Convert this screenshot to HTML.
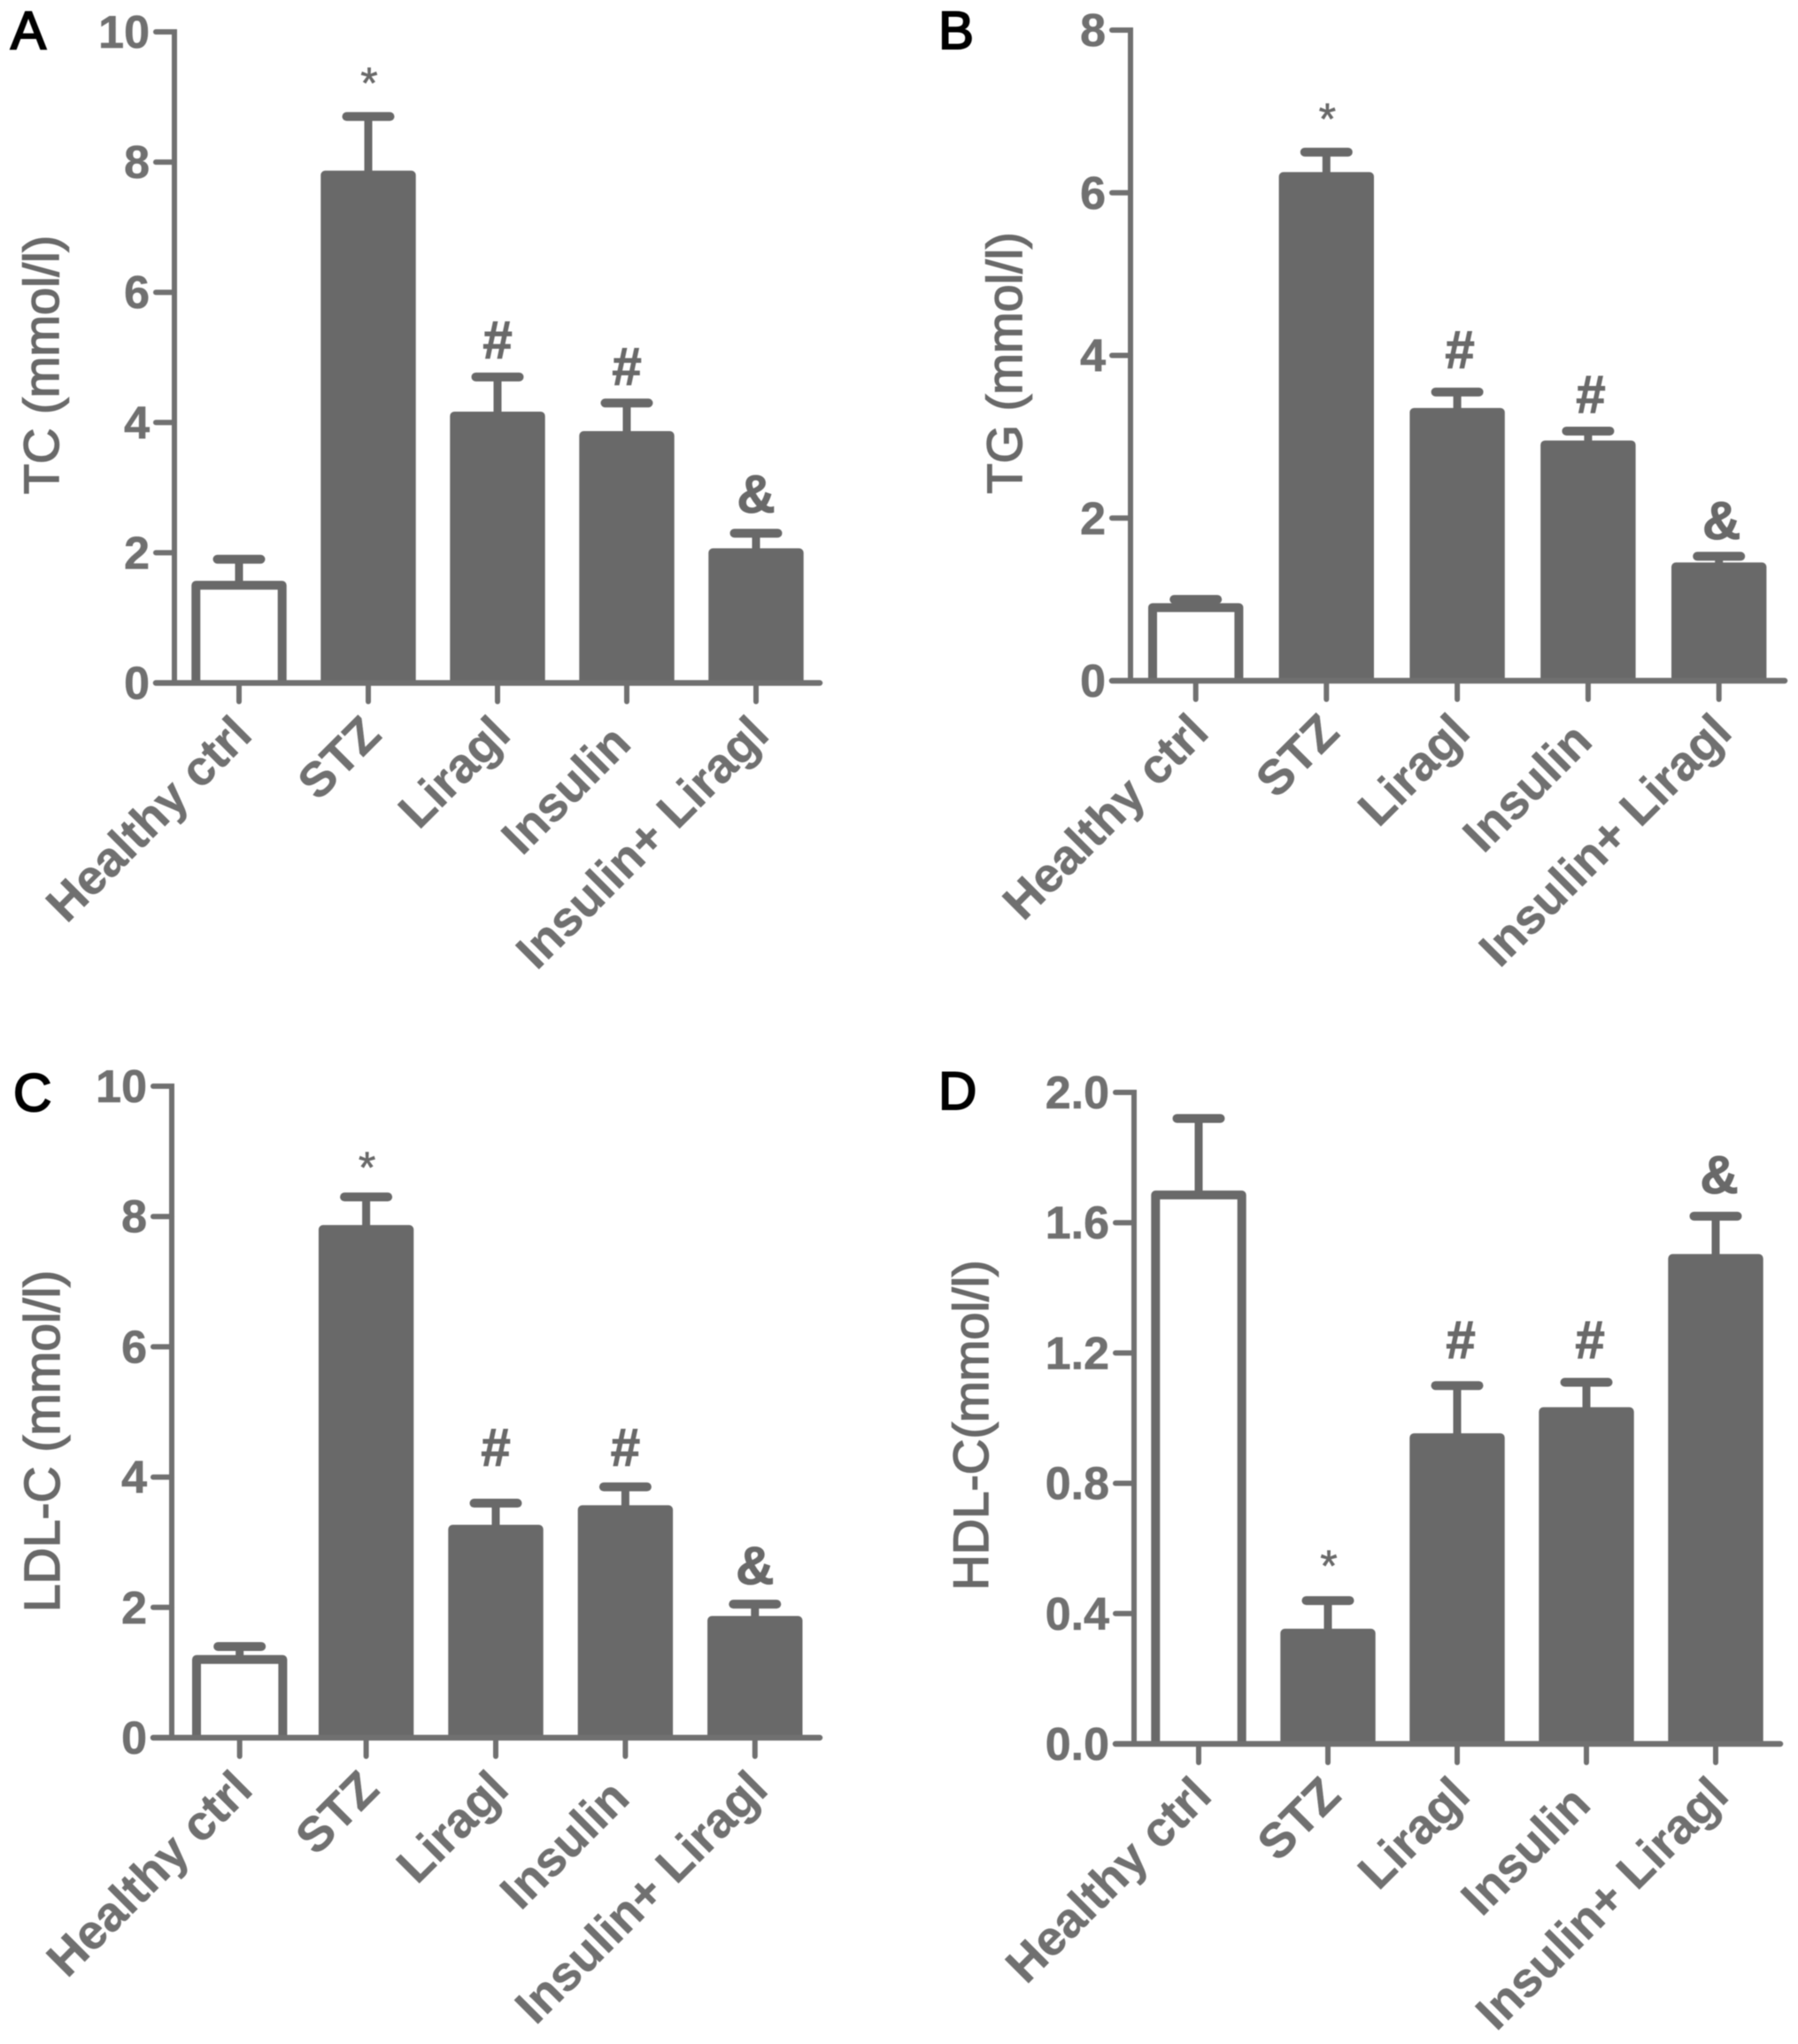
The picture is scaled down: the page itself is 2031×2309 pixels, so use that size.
<!DOCTYPE html>
<html lang="en">
<head>
<meta charset="utf-8">
<title>Lipid panels</title>
<style>
html,body{margin:0;padding:0;background:#fff;}
svg{display:block;filter:blur(0.6px);}
text{font-family:"Liberation Sans",Arial,sans-serif;}
</style>
</head>
<body>
<svg id="figure" xmlns="http://www.w3.org/2000/svg" width="2031" height="2309" viewBox="0 0 2031 2309"></svg>
<script>
const categories = ['Healthy ctrl', 'STZ', 'Liragl', 'Insulin', 'Insulin+ Liragl'];
const significance = ['', '*', '#', '#', '&'];

const tcMeans = [1.5, 7.8, 4.1, 3.8, 2.0];
const tcUpper = [1.9, 8.7, 4.7, 4.3, 2.3];
const tcMarkLevels = [0, 8.98, 4.99, 4.58, 2.62];
const tcTicks = ['0', '2', '4', '6', '8', '10'];

const tgMeans = [0.9, 6.2, 3.3, 2.9, 1.4];
const tgUpper = [1.0, 6.5, 3.55, 3.07, 1.53];
const tgMarkLevels = [0, 6.72, 3.85, 3.30, 1.74];
const tgTicks = ['0', '2', '4', '6', '8'];

const ldlMeans = [1.2, 7.8, 3.2, 3.5, 1.8];
const ldlUpper = [1.4, 8.3, 3.6, 3.85, 2.05];
const ldlMarkLevels = [0, 8.52, 4.18, 4.18, 2.36];
const ldlTicks = ['0', '2', '4', '6', '8', '10'];

const hdlMeans = [1.685, 0.34, 0.94, 1.02, 1.49];
const hdlUpper = [1.92, 0.44, 1.10, 1.11, 1.62];
const hdlMarkLevels = [0, 0.50, 1.185, 1.185, 1.69];
const hdlTicks = ['0.0', '0.4', '0.8', '1.2', '1.6', '2.0'];

const GRAY = '#696969';
const AXIS = '#707070';
const NS = 'http://www.w3.org/2000/svg';
const root = document.getElementById('figure');

function make(parent, tag, attrs, content) {
  const node = document.createElementNS(NS, tag);
  for (const key in attrs) node.setAttribute(key, attrs[key]);
  if (content !== undefined) node.textContent = content;
  parent.appendChild(node);
  return node;
}

function drawPanel(p) {
  const yMax = parseFloat(p.ticks[p.ticks.length - 1]);
  const y = function (v) { return p.base - (v / yMax) * (p.base - p.top); };
  const x = function (i) { return i === 0 ? p.first : p.second + (i - 1) * p.step; };

  const g = make(root, 'g', {});
  
  

  const letter = make(g, 'text', { x: p.letterX, y: p.letterY, 'font-size': 60, fill: '#000', stroke: '#000', 'stroke-width': 2 }, p.letter);
  
  

  const title = make(g, 'text', {
    transform: 'translate(' + p.titleX + ' ' + p.titleY + ') rotate(-90)',
    'text-anchor': 'middle', 'font-size': p.titleSize, fill: GRAY, stroke: GRAY, 'stroke-width': 1.5
  }, p.title);
  
  

  p.means.forEach(function (m, i) {
    const top = y(m);
    const errTop = y(p.upper[i]);
    const cx = x(i);

    const stem = make(g, 'line', { x1: cx, x2: cx, y1: errTop, y2: top, stroke: GRAY, 'stroke-width': 9 });
    
    

    const cap = make(g, 'line', { x1: cx - 24.5, x2: cx + 24.5, y1: errTop, y2: errTop, stroke: GRAY, 'stroke-width': 10, 'stroke-linecap': 'round' });
    
    

    const bar = make(g, 'path', {
      d: 'M' + (cx - 48.7) + ' ' + p.base + 'V' + top + 'H' + (cx + 48.7) + 'V' + p.base,
      fill: i === 0 ? '#fff' : GRAY, stroke: GRAY, 'stroke-width': 10, 'stroke-linejoin': 'round'
    });
    
    

    const tick = make(g, 'line', { x1: cx, x2: cx, y1: p.base, y2: p.base + 21, stroke: AXIS, 'stroke-width': 6, 'stroke-linecap': 'round' });
    
    

    const nudge = categories[i] === 'Insulin' ? 10 : 0;
    const lx = cx + 17 - nudge;
    const ly = p.base + 61 + nudge;
    const label = make(g, 'text', {
      transform: 'translate(' + lx + ' ' + ly + ') rotate(-45)',
      'text-anchor': 'end', 'font-size': 55, 'font-weight': 700, fill: AXIS, stroke: AXIS, 'stroke-width': 0.5
    }, categories[i]);
    
    

    if (significance[i]) {
      const isStar = significance[i] === '*';
      const mark = make(g, 'text', {
        x: cx + (isStar ? 1 : p.markShift), y: y(p.marks[i]), 'text-anchor': 'middle',
        'font-size': isStar ? 50 : 60, 'font-weight': isStar ? 400 : 700, fill: GRAY,
        stroke: GRAY, 'stroke-width': isStar ? 0.6 : 1
      }, significance[i]);
      
      
    }
  });

  const yAxis = make(g, 'line', { x1: p.axisX, x2: p.axisX, y1: p.top - 3, y2: p.base + 3, stroke: AXIS, 'stroke-width': 6 });
  
  

  const xAxis = make(g, 'line', { x1: p.axisX - 21, x2: p.xEnd, y1: p.base, y2: p.base, stroke: AXIS, 'stroke-width': 6.5, 'stroke-linecap': 'round' });
  
  

  p.ticks.forEach(function (t, i) {
    const ty = y(parseFloat(t));
    const tick = make(g, 'line', { x1: p.axisX - 21, x2: p.axisX, y1: ty, y2: ty, stroke: AXIS, 'stroke-width': 6, 'stroke-linecap': 'round' });
    
    

    const label = make(g, 'text', {
      x: p.axisX - 28, y: ty + 18, 'text-anchor': 'end', 'font-size': 52, 'font-weight': 700, fill: AXIS, stroke: AXIS, 'stroke-width': 0.6
    }, t);
    
    
  });
}

drawPanel({ id: 'tc', letter: 'A', letterX: 12, letterY: 55, title: 'TC (mmol/l)', titleX: 66, titleY: 412, titleSize: 56, markShift: 0,
  axisX: 197, top: 36, base: 771.5, first: 270, second: 416, step: 146, xEnd: 926,
  means: tcMeans, upper: tcUpper, marks: tcMarkLevels, ticks: tcTicks });

drawPanel({ id: 'tg', letter: 'B', letterX: 1060, letterY: 55, title: 'TG (mmol/l)', titleX: 1154, titleY: 410, titleSize: 56, markShift: 3,
  axisX: 1277, top: 34, base: 769, first: 1350.7, second: 1498.3, step: 147.8, xEnd: 2016,
  means: tgMeans, upper: tgUpper, marks: tgMarkLevels, ticks: tgTicks });

drawPanel({ id: 'ldl', letter: 'C', letterX: 15, letterY: 1255, title: 'LDL-C (mmol/l)', titleX: 67, titleY: 1628, titleSize: 57, markShift: 0,
  axisX: 194, top: 1227, base: 1963, first: 270.7, second: 413.6, step: 146.4, xEnd: 926,
  means: ldlMeans, upper: ldlUpper, marks: ldlMarkLevels, ticks: ldlTicks });

drawPanel({ id: 'hdl', letter: 'D', letterX: 1060, letterY: 1253, title: 'HDL-C(mmol/l)', titleX: 1116, titleY: 1610, titleSize: 56, markShift: 4,
  axisX: 1281, top: 1234, base: 1970, first: 1354, second: 1500, step: 146, xEnd: 2011,
  means: hdlMeans, upper: hdlUpper, marks: hdlMarkLevels, ticks: hdlTicks });
</script>
</body>
</html>
